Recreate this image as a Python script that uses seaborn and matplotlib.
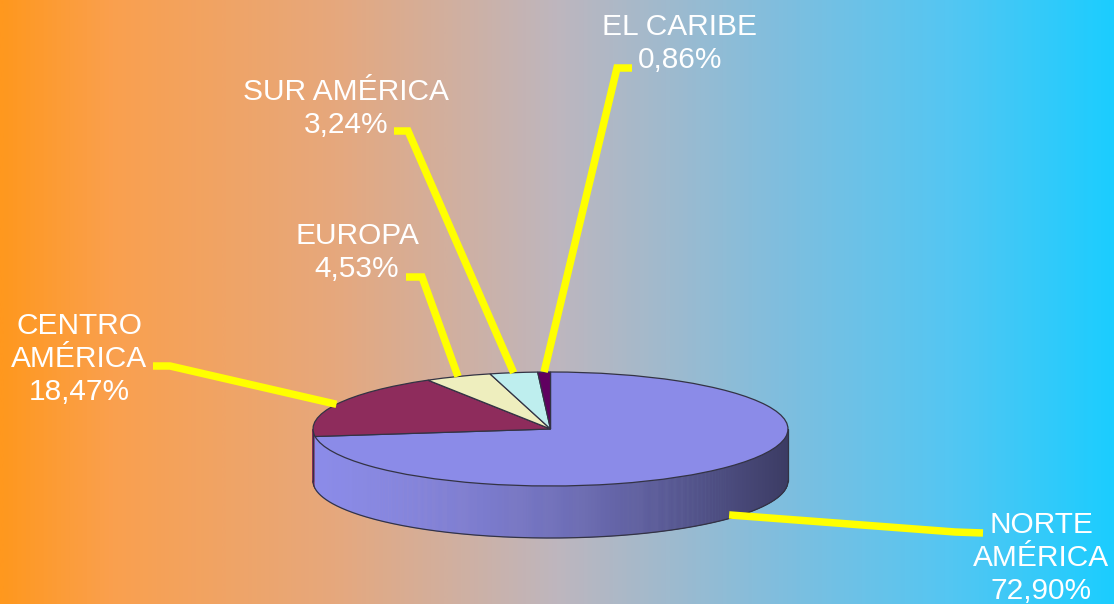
import numpy as np
import matplotlib
matplotlib.use("Agg")
import matplotlib.pyplot as plt
from matplotlib.colors import LinearSegmentedColormap, to_rgb
from matplotlib.collections import PolyCollection
import seaborn as sns

# ---- data -------------------------------------------------------------
regions = ["NORTE\nAMÉRICA", "CENTRO\nAMÉRICA", "EUROPA", "SUR AMÉRICA", "EL CARIBE"]
shares = [72.90, 18.47, 4.53, 3.24, 0.86]
slice_colors = ["#8B8BE8", "#8E2C5C", "#EEEEBE", "#BEEEEE", "#600060"]

# ---- layout (pixels, origin top-left) ----------------------------------
W, H = 1114, 604
cx, cy = 550.5, 429.0          # centre of the top face
rx, ry, depth_px = 237.5, 57.0, 52.0
label_pos = [(1041, 533), (79, 334), (357, 244), (346, 100), (680, 35)]   # centre x, first baseline
label_elbow = [((983, 533), (955, 532)),
               ((153, 366), (170, 366)),
               ((406, 277), (422, 277)),
               ((394, 131), (408, 131)),
               ((632, 68), (617, 68))]
line_step = 33
font_size = 21.5

sns.set_theme(style="white")
plt.rcParams["font.family"] = ["Liberation Sans", "DejaVu Sans"]

fig = plt.figure(figsize=(W / 100, H / 100), dpi=100)

# ---- background gradient ------------------------------------------------
bg = fig.add_axes([0, 0, 1, 1])
bg.set_xlim(0, W)
bg.set_ylim(H, 0)
bg.axis("off")
stops = [(0.00, (255, 152, 30)), (0.10, (250, 160, 78)), (0.30, (230, 168, 125)),
         (0.50, (190, 182, 190)), (0.70, (128, 190, 222)), (0.85, (85, 198, 242)),
         (1.00, (28, 205, 255))]
cmap = LinearSegmentedColormap.from_list(
    "band", [(p, tuple(v / 255 for v in c)) for p, c in stops])
bg.imshow(np.linspace(0, 1, 1024)[None, :], cmap=cmap, extent=(0, W, H, 0),
          aspect="auto", interpolation="bilinear")

# ---- tilted pie ---------------------------------------------------------
depth = depth_px / ry
x0, x1 = -1.2, 1.2
y0, y1 = -1 - depth - 0.3, 1.2
pax = fig.add_axes([(cx + x0 * rx) / W, (H - cy + y0 * ry) / H,
                    (x1 - x0) * rx / W, (y1 - y0) * ry / H])
edge = "#333344"
pax.pie(shares, colors=slice_colors, startangle=90, counterclock=False,
        wedgeprops=dict(edgecolor=edge, linewidth=0.9), frame=False)
pax.set_aspect("auto")
pax.set_xlim(x0, x1)
pax.set_ylim(y0, y1)
pax.axis("off")

fr = np.array(shares) / np.sum(shares)
cum = np.cumsum(fr)
bounds = np.radians(90 - 360 * np.concatenate([[0], cum]))
# front half of the rim, split at slice boundaries
th = np.linspace(np.pi, 2 * np.pi, 721)
extra = [b % (2 * np.pi) for b in bounds if np.pi < b % (2 * np.pi) < 2 * np.pi]
th = np.unique(np.concatenate([th, extra]))
polys, cols = [], []
for a, b in zip(th[:-1], th[1:]):
    m = (a + b) / 2
    pos = ((90 - np.degrees(m)) % 360) / 360
    idx = min(int(np.searchsorted(cum, pos)), len(shares) - 1)
    t = (np.cos(m) + 1) / 2
    f = 1 - 0.57 * t ** 1.6
    c = np.clip(np.array(to_rgb(slice_colors[idx])) * f, 0, 1)
    polys.append([(np.cos(a), np.sin(a)), (np.cos(b), np.sin(b)),
                  (np.cos(b), np.sin(b) - depth), (np.cos(a), np.sin(a) - depth)])
    cols.append(c)
pax.add_collection(PolyCollection(polys, facecolors=cols, edgecolors=cols,
                                  linewidths=0.4, zorder=0.5))
pax.plot(np.cos(th), np.sin(th) - depth, color=edge, lw=0.9, zorder=0.6)
for s in (-1, 1):
    pax.plot([s, s], [0, -depth], color=edge, lw=0.9, zorder=0.6)

# ---- labels and leader lines -------------------------------------------
ov = fig.add_axes([0, 0, 1, 1])
ov.set_xlim(0, W)
ov.set_ylim(H, 0)
ov.axis("off")

mids = np.radians(90 - 360 * (cum - fr / 2))
for i, (name, share) in enumerate(zip(regions, shares)):
    mx, my = np.cos(mids[i]), np.sin(mids[i])
    if my < 0:
        my -= 0.93 * depth
    disp = pax.transData.transform((mx, my))
    ax_pt = ov.transData.inverted().transform(disp)
    (p0, p1) = label_elbow[i]
    ov.plot([p0[0], p1[0], ax_pt[0]], [p0[1], p1[1], ax_pt[1]], color="#FFFF00",
            lw=5.4, solid_capstyle="butt", solid_joinstyle="miter", zorder=3)
    lines = name.split("\n") + [f"{share:.2f}%".replace(".", ",")]
    lx, ly = label_pos[i]
    for j, txt in enumerate(lines):
        ov.text(lx, ly + j * line_step, txt, color="white", fontsize=font_size,
                ha="center", va="baseline", zorder=4)

fig.savefig("out.png", dpi=100)
